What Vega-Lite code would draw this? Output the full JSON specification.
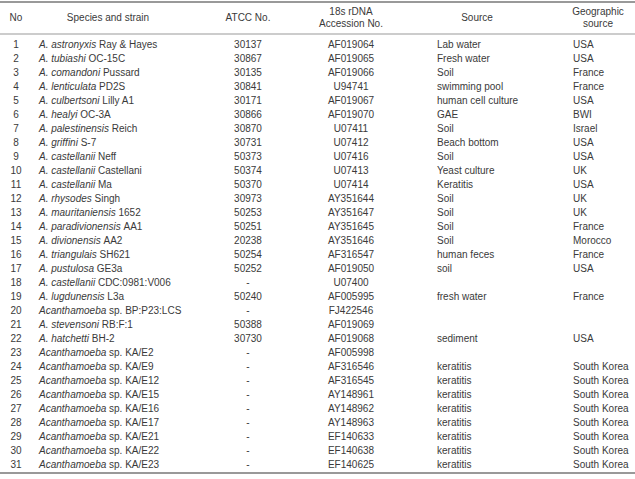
{
  "$schema": "https://vega.github.io/schema/vega-lite/v6.json",
  "width": 635,
  "height": 479,
  "autosize": {"type": "none"},
  "padding": 0,
  "background": "white",
  "config": {
    "view": {"stroke": null},
    "text": {"font": "Liberation Sans", "fontSize": 10, "color": "#3a3a3a", "baseline": "middle"}
  },
  "data": {
    "values": [
      {"n": 1, "sp": "A. astronyxis", "strain": "Ray & Hayes", "atcc": "30137", "acc": "AF019064", "src": "Lab water", "geo": "USA"},
      {"n": 2, "sp": "A. tubiashi", "strain": "OC-15C", "atcc": "30867", "acc": "AF019065", "src": "Fresh water", "geo": "USA"},
      {"n": 3, "sp": "A. comandoni", "strain": "Pussard", "atcc": "30135", "acc": "AF019066", "src": "Soil", "geo": "France"},
      {"n": 4, "sp": "A. lenticulata", "strain": "PD2S", "atcc": "30841", "acc": "U94741", "src": "swimming pool", "geo": "France"},
      {"n": 5, "sp": "A. culbertsoni", "strain": "Lilly A1", "atcc": "30171", "acc": "AF019067", "src": "human cell culture", "geo": "USA"},
      {"n": 6, "sp": "A. healyi", "strain": "OC-3A", "atcc": "30866", "acc": "AF019070", "src": "GAE", "geo": "BWI"},
      {"n": 7, "sp": "A. palestinensis", "strain": "Reich", "atcc": "30870", "acc": "U07411", "src": "Soil", "geo": "Israel"},
      {"n": 8, "sp": "A. griffini", "strain": "S-7", "atcc": "30731", "acc": "U07412", "src": "Beach bottom", "geo": "USA"},
      {"n": 9, "sp": "A. castellanii", "strain": "Neff", "atcc": "50373", "acc": "U07416", "src": "Soil", "geo": "USA"},
      {"n": 10, "sp": "A. castellanii", "strain": "Castellani", "atcc": "50374", "acc": "U07413", "src": "Yeast culture", "geo": "UK"},
      {"n": 11, "sp": "A. castellanii", "strain": "Ma", "atcc": "50370", "acc": "U07414", "src": "Keratitis", "geo": "USA"},
      {"n": 12, "sp": "A. rhysodes", "strain": "Singh", "atcc": "30973", "acc": "AY351644", "src": "Soil", "geo": "UK"},
      {"n": 13, "sp": "A. mauritaniensis", "strain": "1652", "atcc": "50253", "acc": "AY351647", "src": "Soil", "geo": "UK"},
      {"n": 14, "sp": "A. paradivionensis", "strain": "AA1", "atcc": "50251", "acc": "AY351645", "src": "Soil", "geo": "France"},
      {"n": 15, "sp": "A. divionensis", "strain": "AA2", "atcc": "20238", "acc": "AY351646", "src": "Soil", "geo": "Morocco"},
      {"n": 16, "sp": "A. triangulais", "strain": "SH621", "atcc": "50254", "acc": "AF316547", "src": "human feces", "geo": "France"},
      {"n": 17, "sp": "A. pustulosa", "strain": "GE3a", "atcc": "50252", "acc": "AF019050", "src": "soil", "geo": "USA"},
      {"n": 18, "sp": "A. castellanii", "strain": "CDC:0981:V006", "atcc": "-", "acc": "U07400", "src": "", "geo": ""},
      {"n": 19, "sp": "A. lugdunensis", "strain": "L3a", "atcc": "50240", "acc": "AF005995", "src": "fresh water", "geo": "France"},
      {"n": 20, "sp": "Acanthamoeba", "strain": "sp. BP:P23:LCS", "atcc": "-", "acc": "FJ422546", "src": "", "geo": ""},
      {"n": 21, "sp": "A. stevensoni", "strain": "RB:F:1", "atcc": "50388", "acc": "AF019069", "src": "", "geo": ""},
      {"n": 22, "sp": "A. hatchetti", "strain": "BH-2", "atcc": "30730", "acc": "AF019068", "src": "sediment", "geo": "USA"},
      {"n": 23, "sp": "Acanthamoeba", "strain": "sp. KA/E2", "atcc": "-", "acc": "AF005998", "src": "", "geo": ""},
      {"n": 24, "sp": "Acanthamoeba", "strain": "sp. KA/E9", "atcc": "-", "acc": "AF316546", "src": "keratitis", "geo": "South Korea"},
      {"n": 25, "sp": "Acanthamoeba", "strain": "sp. KA/E12", "atcc": "-", "acc": "AF316545", "src": "keratitis", "geo": "South Korea"},
      {"n": 26, "sp": "Acanthamoeba", "strain": "sp. KA/E15", "atcc": "-", "acc": "AY148961", "src": "keratitis", "geo": "South Korea"},
      {"n": 27, "sp": "Acanthamoeba", "strain": "sp. KA/E16", "atcc": "-", "acc": "AY148962", "src": "keratitis", "geo": "South Korea"},
      {"n": 28, "sp": "Acanthamoeba", "strain": "sp. KA/E17", "atcc": "-", "acc": "AY148963", "src": "keratitis", "geo": "South Korea"},
      {"n": 29, "sp": "Acanthamoeba", "strain": "sp. KA/E21", "atcc": "-", "acc": "EF140633", "src": "keratitis", "geo": "South Korea"},
      {"n": 30, "sp": "Acanthamoeba", "strain": "sp. KA/E22", "atcc": "-", "acc": "EF140638", "src": "keratitis", "geo": "South Korea"},
      {"n": 31, "sp": "Acanthamoeba", "strain": "sp. KA/E23", "atcc": "-", "acc": "EF140625", "src": "keratitis", "geo": "South Korea"}
    ]
  },
  "layer": [
    {
      "data": {"values": [{}]},
      "mark": {"type": "rule", "stroke": "#777", "strokeWidth": 1.5},
      "encoding": {"y": {"datum": -2.07, "type": "quantitative", "scale": {"domain": [-2.214, 32], "range": [0, 479], "nice": false, "zero": false}, "axis": null}}
    },
    {
      "data": {"values": [{}]},
      "mark": {"type": "rule", "stroke": "#999", "strokeWidth": 1},
      "encoding": {"y": {"datum": 0.215, "type": "quantitative", "scale": {"domain": [-2.214, 32], "range": [0, 479], "nice": false, "zero": false}, "axis": null}}
    },
    {
      "data": {"values": [{}]},
      "mark": {"type": "rule", "stroke": "#777", "strokeWidth": 1.5},
      "encoding": {"y": {"datum": 31.57, "type": "quantitative", "scale": {"domain": [-2.214, 32], "range": [0, 479], "nice": false, "zero": false}, "axis": null}}
    },
    {
      "data": {"values": [{"t": "No"}]},
      "mark": {"type": "text", "align": "center"},
      "encoding": {
        "x": {"datum": 0, "type": "quantitative", "scale": {"domain": [0, 1, 2, 3, 4, 5, 6, 7, 8], "range": [16, 39, 108, 248, 351, 437, 477, 573, 598], "nice": false, "zero": false}, "axis": null},
        "y": {"datum": -0.93, "type": "quantitative", "scale": {"domain": [-2.214, 32], "range": [0, 479], "nice": false, "zero": false}, "axis": null},
        "text": {"field": "t"}
      }
    },
    {
      "data": {"values": [{"t": "Species and strain"}]},
      "mark": {"type": "text", "align": "center"},
      "encoding": {
        "x": {"datum": 2, "type": "quantitative", "scale": {"domain": [0, 1, 2, 3, 4, 5, 6, 7, 8], "range": [16, 39, 108, 248, 351, 437, 477, 573, 598], "nice": false, "zero": false}, "axis": null},
        "y": {"datum": -0.93, "type": "quantitative", "scale": {"domain": [-2.214, 32], "range": [0, 479], "nice": false, "zero": false}, "axis": null},
        "text": {"field": "t"}
      }
    },
    {
      "data": {"values": [{"t": "ATCC No."}]},
      "mark": {"type": "text", "align": "center"},
      "encoding": {
        "x": {"datum": 3, "type": "quantitative", "scale": {"domain": [0, 1, 2, 3, 4, 5, 6, 7, 8], "range": [16, 39, 108, 248, 351, 437, 477, 573, 598], "nice": false, "zero": false}, "axis": null},
        "y": {"datum": -0.93, "type": "quantitative", "scale": {"domain": [-2.214, 32], "range": [0, 479], "nice": false, "zero": false}, "axis": null},
        "text": {"field": "t"}
      }
    },
    {
      "data": {"values": [{"t": "18s rDNA\nAccession No."}]},
      "mark": {"type": "text", "align": "center", "lineBreak": "\n", "lineHeight": 12.5},
      "encoding": {
        "x": {"datum": 4, "type": "quantitative", "scale": {"domain": [0, 1, 2, 3, 4, 5, 6, 7, 8], "range": [16, 39, 108, 248, 351, 437, 477, 573, 598], "nice": false, "zero": false}, "axis": null},
        "y": {"datum": -1.39, "type": "quantitative", "scale": {"domain": [-2.214, 32], "range": [0, 479], "nice": false, "zero": false}, "axis": null},
        "text": {"field": "t"}
      }
    },
    {
      "data": {"values": [{"t": "Source"}]},
      "mark": {"type": "text", "align": "center"},
      "encoding": {
        "x": {"datum": 6, "type": "quantitative", "scale": {"domain": [0, 1, 2, 3, 4, 5, 6, 7, 8], "range": [16, 39, 108, 248, 351, 437, 477, 573, 598], "nice": false, "zero": false}, "axis": null},
        "y": {"datum": -0.93, "type": "quantitative", "scale": {"domain": [-2.214, 32], "range": [0, 479], "nice": false, "zero": false}, "axis": null},
        "text": {"field": "t"}
      }
    },
    {
      "data": {"values": [{"t": "Geographic\nsource"}]},
      "mark": {"type": "text", "align": "center", "lineBreak": "\n", "lineHeight": 12.5},
      "encoding": {
        "x": {"datum": 8, "type": "quantitative", "scale": {"domain": [0, 1, 2, 3, 4, 5, 6, 7, 8], "range": [16, 39, 108, 248, 351, 437, 477, 573, 598], "nice": false, "zero": false}, "axis": null},
        "y": {"datum": -1.39, "type": "quantitative", "scale": {"domain": [-2.214, 32], "range": [0, 479], "nice": false, "zero": false}, "axis": null},
        "text": {"field": "t"}
      }
    },
    {
      "mark": {"type": "text", "align": "center"},
      "encoding": {
        "x": {"datum": 0, "type": "quantitative", "scale": {"domain": [0, 1, 2, 3, 4, 5, 6, 7, 8], "range": [16, 39, 108, 248, 351, 437, 477, 573, 598], "nice": false, "zero": false}, "axis": null},
        "y": {"field": "n", "type": "quantitative", "scale": {"domain": [-2.214, 32], "range": [0, 479], "nice": false, "zero": false}, "axis": null},
        "text": {"field": "n", "type": "nominal"}
      }
    },
    {
      "mark": {"type": "text", "align": "left", "fontStyle": "italic"},
      "encoding": {
        "x": {"datum": 1, "type": "quantitative", "scale": {"domain": [0, 1, 2, 3, 4, 5, 6, 7, 8], "range": [16, 39, 108, 248, 351, 437, 477, 573, 598], "nice": false, "zero": false}, "axis": null},
        "y": {"field": "n", "type": "quantitative", "scale": {"domain": [-2.214, 32], "range": [0, 479], "nice": false, "zero": false}, "axis": null},
        "text": {"field": "sp", "type": "nominal"}
      }
    },
    {
      "transform": [
        {"calculate": "556*length(datum.sp) - 334*(length(datum.sp)-length(replace(datum.sp, regexp('[ijl]','g'), ''))) - 278*(length(datum.sp)-length(replace(datum.sp, regexp('[ft. ]','g'), ''))) - 223*(length(datum.sp)-length(replace(datum.sp, regexp('r','g'), ''))) - 56*(length(datum.sp)-length(replace(datum.sp, regexp('[cksvxyz]','g'), ''))) + 277*(length(datum.sp)-length(replace(datum.sp, regexp('m','g'), ''))) + 111*(length(datum.sp)-length(replace(datum.sp, regexp('A','g'), ''))) + 278", "as": "w"}
      ],
      "mark": {"type": "text", "align": "left"},
      "encoding": {
        "x": {"datum": 1, "type": "quantitative", "scale": {"domain": [0, 1, 2, 3, 4, 5, 6, 7, 8], "range": [16, 39, 108, 248, 351, 437, 477, 573, 598], "nice": false, "zero": false}, "axis": null},
        "xOffset": {"field": "w", "type": "quantitative", "scale": {"domain": [0, 1000], "range": [0, 10], "nice": false, "zero": false}},
        "y": {"field": "n", "type": "quantitative", "scale": {"domain": [-2.214, 32], "range": [0, 479], "nice": false, "zero": false}, "axis": null},
        "text": {"field": "strain", "type": "nominal"}
      }
    },
    {
      "mark": {"type": "text", "align": "center"},
      "encoding": {
        "x": {"datum": 3, "type": "quantitative", "scale": {"domain": [0, 1, 2, 3, 4, 5, 6, 7, 8], "range": [16, 39, 108, 248, 351, 437, 477, 573, 598], "nice": false, "zero": false}, "axis": null},
        "y": {"field": "n", "type": "quantitative", "scale": {"domain": [-2.214, 32], "range": [0, 479], "nice": false, "zero": false}, "axis": null},
        "text": {"field": "atcc", "type": "nominal"}
      }
    },
    {
      "mark": {"type": "text", "align": "center"},
      "encoding": {
        "x": {"datum": 4, "type": "quantitative", "scale": {"domain": [0, 1, 2, 3, 4, 5, 6, 7, 8], "range": [16, 39, 108, 248, 351, 437, 477, 573, 598], "nice": false, "zero": false}, "axis": null},
        "y": {"field": "n", "type": "quantitative", "scale": {"domain": [-2.214, 32], "range": [0, 479], "nice": false, "zero": false}, "axis": null},
        "text": {"field": "acc", "type": "nominal"}
      }
    },
    {
      "mark": {"type": "text", "align": "left"},
      "encoding": {
        "x": {"datum": 5, "type": "quantitative", "scale": {"domain": [0, 1, 2, 3, 4, 5, 6, 7, 8], "range": [16, 39, 108, 248, 351, 437, 477, 573, 598], "nice": false, "zero": false}, "axis": null},
        "y": {"field": "n", "type": "quantitative", "scale": {"domain": [-2.214, 32], "range": [0, 479], "nice": false, "zero": false}, "axis": null},
        "text": {"field": "src", "type": "nominal"}
      }
    },
    {
      "mark": {"type": "text", "align": "left"},
      "encoding": {
        "x": {"datum": 7, "type": "quantitative", "scale": {"domain": [0, 1, 2, 3, 4, 5, 6, 7, 8], "range": [16, 39, 108, 248, 351, 437, 477, 573, 598], "nice": false, "zero": false}, "axis": null},
        "y": {"field": "n", "type": "quantitative", "scale": {"domain": [-2.214, 32], "range": [0, 479], "nice": false, "zero": false}, "axis": null},
        "text": {"field": "geo", "type": "nominal"}
      }
    }
  ]
}
